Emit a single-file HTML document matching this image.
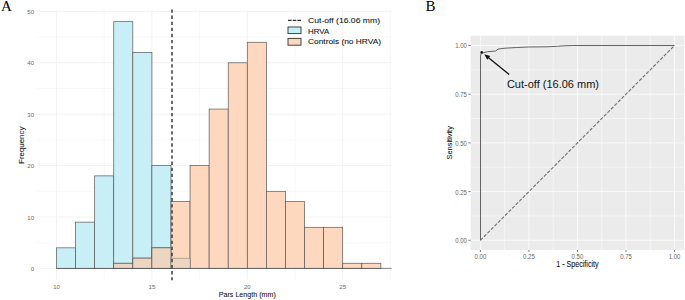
<!DOCTYPE html>
<html><head><meta charset="utf-8"><title>Figure</title>
<style>
html,body{margin:0;padding:0;background:#fff;}
body{width:685px;height:300px;overflow:hidden;}
svg{display:block;}
.tk{font:6px "Liberation Sans",Arial,sans-serif;fill:#666;}
.ttl{font-family:"Liberation Sans",Arial,sans-serif;fill:#111;stroke:#111;stroke-width:0.07px;}
.lg{font:8px "Liberation Sans",Arial,sans-serif;fill:#111;stroke:#111;stroke-width:0.08px;}
.pn{font:15px "Liberation Serif","Times New Roman",serif;fill:#000;}
</style></head><body>
<svg width="685" height="300" viewBox="0 0 685 300">
<rect width="685" height="300" fill="#fff"/>
<g id="panelA">
<line x1="37.0" x2="391.5" y1="268.40" y2="268.40" stroke="#f1f1f1" stroke-width="0.9"/>
<line x1="37.0" x2="391.5" y1="242.70" y2="242.70" stroke="#f1f1f1" stroke-width="0.5"/>
<line x1="37.0" x2="391.5" y1="217.00" y2="217.00" stroke="#f1f1f1" stroke-width="0.9"/>
<line x1="37.0" x2="391.5" y1="191.30" y2="191.30" stroke="#f1f1f1" stroke-width="0.5"/>
<line x1="37.0" x2="391.5" y1="165.60" y2="165.60" stroke="#f1f1f1" stroke-width="0.9"/>
<line x1="37.0" x2="391.5" y1="139.90" y2="139.90" stroke="#f1f1f1" stroke-width="0.5"/>
<line x1="37.0" x2="391.5" y1="114.20" y2="114.20" stroke="#f1f1f1" stroke-width="0.9"/>
<line x1="37.0" x2="391.5" y1="88.50" y2="88.50" stroke="#f1f1f1" stroke-width="0.5"/>
<line x1="37.0" x2="391.5" y1="62.80" y2="62.80" stroke="#f1f1f1" stroke-width="0.9"/>
<line x1="37.0" x2="391.5" y1="37.10" y2="37.10" stroke="#f1f1f1" stroke-width="0.5"/>
<line x1="37.0" x2="391.5" y1="11.40" y2="11.40" stroke="#f1f1f1" stroke-width="0.9"/>
<line y1="9.8" y2="280.2" x1="56.50" x2="56.50" stroke="#f1f1f1" stroke-width="0.9"/>
<line y1="9.8" y2="280.2" x1="104.20" x2="104.20" stroke="#f1f1f1" stroke-width="0.5"/>
<line y1="9.8" y2="280.2" x1="151.90" x2="151.90" stroke="#f1f1f1" stroke-width="0.9"/>
<line y1="9.8" y2="280.2" x1="199.60" x2="199.60" stroke="#f1f1f1" stroke-width="0.5"/>
<line y1="9.8" y2="280.2" x1="247.30" x2="247.30" stroke="#f1f1f1" stroke-width="0.9"/>
<line y1="9.8" y2="280.2" x1="295.00" x2="295.00" stroke="#f1f1f1" stroke-width="0.5"/>
<line y1="9.8" y2="280.2" x1="342.70" x2="342.70" stroke="#f1f1f1" stroke-width="0.9"/>
<line y1="9.8" y2="280.2" x1="390.40" x2="390.40" stroke="#f1f1f1" stroke-width="0.5"/>
<rect x="56.50" y="247.84" width="19.08" height="20.56" fill="#c9eff6" stroke="#585858" stroke-width="0.7"/>
<rect x="75.58" y="222.14" width="19.08" height="46.26" fill="#c9eff6" stroke="#585858" stroke-width="0.7"/>
<rect x="94.66" y="175.88" width="19.08" height="92.52" fill="#c9eff6" stroke="#585858" stroke-width="0.7"/>
<rect x="113.74" y="21.68" width="19.08" height="246.72" fill="#c9eff6" stroke="#585858" stroke-width="0.7"/>
<rect x="132.82" y="52.52" width="19.08" height="215.88" fill="#c9eff6" stroke="#585858" stroke-width="0.7"/>
<rect x="151.90" y="165.60" width="19.08" height="102.80" fill="#c9eff6" stroke="#585858" stroke-width="0.7"/>
<rect x="170.98" y="258.12" width="19.08" height="10.28" fill="#c9eff6" stroke="#585858" stroke-width="0.7"/>
<rect x="113.74" y="263.26" width="19.08" height="5.14" fill="#fdd8bf" stroke="#585858" stroke-width="0.7"/>
<rect x="132.82" y="258.12" width="19.08" height="10.28" fill="#fdd8bf" stroke="#585858" stroke-width="0.7"/>
<rect x="151.90" y="247.84" width="19.08" height="20.56" fill="#fdd8bf" stroke="#585858" stroke-width="0.7"/>
<rect x="170.98" y="201.58" width="19.08" height="66.82" fill="#fdd8bf" stroke="#585858" stroke-width="0.7"/>
<rect x="190.06" y="165.60" width="19.08" height="102.80" fill="#fdd8bf" stroke="#585858" stroke-width="0.7"/>
<rect x="209.14" y="109.06" width="19.08" height="159.34" fill="#fdd8bf" stroke="#585858" stroke-width="0.7"/>
<rect x="228.22" y="62.80" width="19.08" height="205.60" fill="#fdd8bf" stroke="#585858" stroke-width="0.7"/>
<rect x="247.30" y="42.24" width="19.08" height="226.16" fill="#fdd8bf" stroke="#585858" stroke-width="0.7"/>
<rect x="266.38" y="191.30" width="19.08" height="77.10" fill="#fdd8bf" stroke="#585858" stroke-width="0.7"/>
<rect x="285.46" y="201.58" width="19.08" height="66.82" fill="#fdd8bf" stroke="#585858" stroke-width="0.7"/>
<rect x="304.54" y="227.28" width="19.08" height="41.12" fill="#fdd8bf" stroke="#585858" stroke-width="0.7"/>
<rect x="323.62" y="227.28" width="19.08" height="41.12" fill="#fdd8bf" stroke="#585858" stroke-width="0.7"/>
<rect x="342.70" y="263.26" width="19.08" height="5.14" fill="#fdd8bf" stroke="#585858" stroke-width="0.7"/>
<rect x="361.78" y="263.26" width="19.08" height="5.14" fill="#fdd8bf" stroke="#585858" stroke-width="0.7"/>
<rect x="113.74" y="263.26" width="19.08" height="5.14" fill="#ecd6c1" stroke="#585858" stroke-width="0.7"/>
<rect x="132.82" y="258.12" width="19.08" height="10.28" fill="#ecd6c1" stroke="#585858" stroke-width="0.7"/>
<rect x="151.90" y="247.84" width="19.08" height="20.56" fill="#ecd6c1" stroke="#585858" stroke-width="0.7"/>
<rect x="170.98" y="258.12" width="19.08" height="10.28" fill="#ecd6c1" stroke="#585858" stroke-width="0.4"/>
<line x1="56.50" x2="391.5" y1="268.4" y2="268.4" stroke="#585858" stroke-width="0.7"/>
<line x1="172" x2="172" y1="9.5" y2="280.2" stroke="#3a3a3a" stroke-width="1.5" stroke-dasharray="3.3 2.784"/>
<text class="tk" x="34" y="270.95" text-anchor="end">0</text>
<text class="tk" x="34" y="219.55" text-anchor="end">10</text>
<text class="tk" x="34" y="168.15" text-anchor="end">20</text>
<text class="tk" x="34" y="116.75" text-anchor="end">30</text>
<text class="tk" x="34" y="65.35" text-anchor="end">40</text>
<text class="tk" x="34" y="13.95" text-anchor="end">50</text>
<text class="tk" x="56.50" y="288.9" text-anchor="middle">10</text>
<text class="tk" x="151.90" y="288.9" text-anchor="middle">15</text>
<text class="tk" x="247.30" y="288.9" text-anchor="middle">20</text>
<text class="tk" x="342.70" y="288.9" text-anchor="middle">25</text>
<text class="ttl" style="font-size:7.9px" transform="translate(24.2,145.3) rotate(-90)" text-anchor="middle">Frequency</text>
<text class="ttl" style="font-size:7.15px" transform="translate(247.3,297.3) scale(1,1.13)" text-anchor="middle">Pars Length (mm)</text>
<line x1="288" x2="301" y1="20.4" y2="20.4" stroke="#333" stroke-width="1.4" stroke-dasharray="3.6 1.1"/>
<rect x="288" y="27" width="13" height="6.6" fill="#c9eff6" stroke="#333" stroke-width="0.9"/>
<rect x="288" y="38.4" width="13" height="6.8" fill="#fdd8bf" stroke="#333" stroke-width="0.9"/>
<text class="lg" x="308" y="23.1" textLength="72" lengthAdjust="spacingAndGlyphs">Cut-off (16.06 mm)</text>
<text class="lg" x="308" y="33.6" textLength="21.3" lengthAdjust="spacingAndGlyphs">HRVA</text>
<text class="lg" x="308" y="44.3" textLength="73" lengthAdjust="spacingAndGlyphs">Controls (no HRVA)</text>
</g>
<g id="panelB">
<rect x="470.7" y="35.7" width="213.50" height="214.30" fill="#ebebeb"/>
<line x1="470.7" x2="684.2" y1="240.30" y2="240.30" stroke="#fff" stroke-width="0.75"/>
<line y1="35.7" y2="250.0" x1="480.40" x2="480.40" stroke="#fff" stroke-width="0.75"/>
<line x1="470.7" x2="684.2" y1="215.95" y2="215.95" stroke="#fff" stroke-width="0.5"/>
<line y1="35.7" y2="250.0" x1="504.66" x2="504.66" stroke="#fff" stroke-width="0.5"/>
<line x1="470.7" x2="684.2" y1="191.60" y2="191.60" stroke="#fff" stroke-width="0.75"/>
<line y1="35.7" y2="250.0" x1="528.92" x2="528.92" stroke="#fff" stroke-width="0.75"/>
<line x1="470.7" x2="684.2" y1="167.25" y2="167.25" stroke="#fff" stroke-width="0.5"/>
<line y1="35.7" y2="250.0" x1="553.19" x2="553.19" stroke="#fff" stroke-width="0.5"/>
<line x1="470.7" x2="684.2" y1="142.90" y2="142.90" stroke="#fff" stroke-width="0.75"/>
<line y1="35.7" y2="250.0" x1="577.45" x2="577.45" stroke="#fff" stroke-width="0.75"/>
<line x1="470.7" x2="684.2" y1="118.55" y2="118.55" stroke="#fff" stroke-width="0.5"/>
<line y1="35.7" y2="250.0" x1="601.71" x2="601.71" stroke="#fff" stroke-width="0.5"/>
<line x1="470.7" x2="684.2" y1="94.20" y2="94.20" stroke="#fff" stroke-width="0.75"/>
<line y1="35.7" y2="250.0" x1="625.98" x2="625.98" stroke="#fff" stroke-width="0.75"/>
<line x1="470.7" x2="684.2" y1="69.85" y2="69.85" stroke="#fff" stroke-width="0.5"/>
<line y1="35.7" y2="250.0" x1="650.24" x2="650.24" stroke="#fff" stroke-width="0.5"/>
<line x1="470.7" x2="684.2" y1="45.50" y2="45.50" stroke="#fff" stroke-width="0.75"/>
<line y1="35.7" y2="250.0" x1="674.50" x2="674.50" stroke="#fff" stroke-width="0.75"/>
<line x1="480.4" y1="240.3" x2="674.5" y2="45.5" stroke="#6e6e6e" stroke-width="1.1" stroke-dasharray="3.4 1.6"/>
<polyline fill="none" stroke="#5c5c5c" stroke-width="0.95" points="480.5,240.3 480.5,56.1 481.0,54 481.7,52.6 482.8,52.9 487.5,51.7 495.7,51 498,49.1 505,48.2 516.7,47.5 528.4,47 547,46.8 557.6,46.3 562.2,45.9 572.7,45.5 674.5,45.5"/>
<circle cx="481.7" cy="52.4" r="1.3" fill="#111"/>
<line x1="509.2" y1="74.4" x2="487" y2="56.5" stroke="#111" stroke-width="1.3"/>
<polygon points="484.3,54.3 490.3,55.9 487.2,59.7" fill="#111"/>
<text x="506.9" y="87.8" style="font:11px 'Liberation Sans',Arial,sans-serif" fill="#111">Cut-off (16.06 mm)</text>
<line x1="468.4" x2="470.7" y1="240.30" y2="240.30" stroke="#444" stroke-width="0.7"/>
<line y1="250.0" y2="252" x1="480.40" x2="480.40" stroke="#444" stroke-width="0.7"/>
<text class="tk" transform="translate(466.8,243.20) scale(1,1.1)" text-anchor="end">0.00</text>
<text class="tk" transform="translate(480.40,259.0) scale(1,1.1)" text-anchor="middle">0.00</text>
<line x1="468.4" x2="470.7" y1="191.60" y2="191.60" stroke="#444" stroke-width="0.7"/>
<line y1="250.0" y2="252" x1="528.92" x2="528.92" stroke="#444" stroke-width="0.7"/>
<text class="tk" transform="translate(466.8,194.50) scale(1,1.1)" text-anchor="end">0.25</text>
<text class="tk" transform="translate(528.92,259.0) scale(1,1.1)" text-anchor="middle">0.25</text>
<line x1="468.4" x2="470.7" y1="142.90" y2="142.90" stroke="#444" stroke-width="0.7"/>
<line y1="250.0" y2="252" x1="577.45" x2="577.45" stroke="#444" stroke-width="0.7"/>
<text class="tk" transform="translate(466.8,145.80) scale(1,1.1)" text-anchor="end">0.50</text>
<text class="tk" transform="translate(577.45,259.0) scale(1,1.1)" text-anchor="middle">0.50</text>
<line x1="468.4" x2="470.7" y1="94.20" y2="94.20" stroke="#444" stroke-width="0.7"/>
<line y1="250.0" y2="252" x1="625.98" x2="625.98" stroke="#444" stroke-width="0.7"/>
<text class="tk" transform="translate(466.8,97.10) scale(1,1.1)" text-anchor="end">0.75</text>
<text class="tk" transform="translate(625.98,259.0) scale(1,1.1)" text-anchor="middle">0.75</text>
<line x1="468.4" x2="470.7" y1="45.50" y2="45.50" stroke="#444" stroke-width="0.7"/>
<line y1="250.0" y2="252" x1="674.50" x2="674.50" stroke="#444" stroke-width="0.7"/>
<text class="tk" transform="translate(466.8,48.40) scale(1,1.1)" text-anchor="end">1.00</text>
<text class="tk" transform="translate(674.50,259.0) scale(1,1.1)" text-anchor="middle">1.00</text>
<text class="ttl" style="font-size:7.4px" transform="translate(452.2,142.8) rotate(-90)" text-anchor="middle">Sensitivity</text>
<text class="ttl" style="font-size:7.15px" transform="translate(577.4,267.4) scale(1,1.15)" text-anchor="middle">1 - Specificity</text>
</g>
<text class="pn" x="1" y="11.2">A</text>
<text class="pn" x="425.6" y="11.2">B</text>
</svg>
</body></html>
